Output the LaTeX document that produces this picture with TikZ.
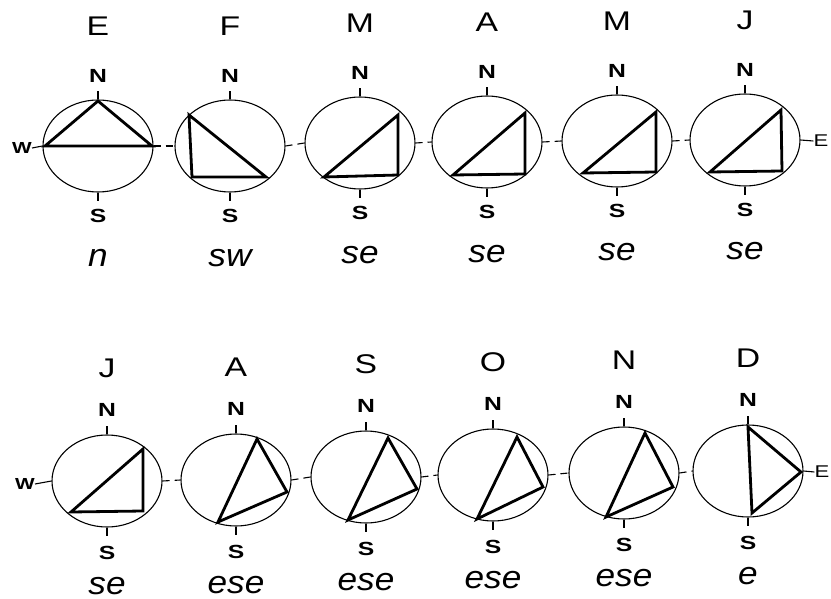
\documentclass[tikz,border=0pt]{standalone}
\usepackage{fontspec}
\setmainfont{Liberation Sans}
\newfontfamily\monthfont[FakeStretch=1.25]{Liberation Sans}
\newfontfamily\cardfont[FakeStretch=1.3]{Liberation Sans}
\newfontfamily\windfont[FakeStretch=1.1]{Liberation Sans}
\usetikzlibrary{shapes.geometric}
\begin{document}
\begin{tikzpicture}[x=1pt,y=-1pt,
 ell/.style={draw, ellipse, minimum width=110pt, minimum height=92pt, inner sep=0pt, line width=1.1pt},
 tri/.style={line width=2.8pt, line join=miter},
 conn/.style={line width=1.1pt, dash pattern=on 7pt off 5pt},
 tk/.style={line width=1.1pt},
 month/.style={font=\monthfont\fontsize{27}{27}\selectfont, anchor=base, inner sep=0pt},
 cardinal/.style={font=\cardfont\fontsize{19}{19}\selectfont\bfseries, anchor=base, inner sep=0pt},
 wind/.style={font=\windfont\fontsize{32}{32}\selectfont\itshape, anchor=base, inner sep=0pt}]
\useasboundingbox (0,0) rectangle (831,599);
\newcommand\compassrose[5]{%
  \node[ell] (#1) at (#2,#3) {};
  \draw[tk] (#1.north) -- ++(0,-8);
  \draw[tk] (#1.south) -- ++(0,8);
  \node[cardinal] (#1n) at (#2,#3-\noff) {N};
  \node[cardinal] (#1s) at (#2,#3+\soff) {S};
  \node[month] (#1m) at (#2,#3-\moff) {#4};
  \node[wind] (#1w) at (#2,#3+\woff) {#5};
}
% top row
\def\noff{63}\def\soff{77}\def\moff{110}\def\woff{120}
\compassrose{a1}{98}{146}{E}{n}
\compassrose{a2}{230}{146}{F}{sw}
\compassrose{a3}{360}{143}{M}{se}
\compassrose{a4}{487}{142}{A}{se}
\compassrose{a5}{617}{141}{M}{se}
\compassrose{a6}{745}{140}{J}{se}
% bottom row
\def\noff{65}\def\soff{78}\def\moff{104}\def\woff{113}
\compassrose{b1}{107}{481}{J}{se}
\compassrose{b2}{236}{480}{A}{ese}
\compassrose{b3}{366}{477}{S}{ese}
\compassrose{b4}{493}{475}{O}{ese}
\compassrose{b5}{624}{473}{N}{ese}
\compassrose{b6}{748}{471}{D}{e}
% W and E labels
\node[font=\cardfont\fontsize{16}{16}\selectfont\bfseries, inner sep=0pt] (wa) at (22,148) {W};
\node[font=\cardfont\fontsize{16}{16}\selectfont\bfseries, inner sep=0pt] (wb) at (25,484) {W};
\node[font=\cardfont\fontsize{17}{17}\selectfont, inner sep=0pt] (ea) at (821,141) {E};
\node[font=\cardfont\fontsize{17}{17}\selectfont, inner sep=0pt] (eb) at (822,472) {E};
\draw[tk] (wa.east) -- (a1.west);
\draw[tk] (wb.east) -- (b1.west);
\draw[tk] (a6.east) -- (ea.west);
\draw[tk] (b6.east) -- (eb.west);
% connectors
\foreach \p/\q in {a1/a2,a2/a3,a3/a4,a4/a5,a5/a6,b1/b2,b2/b3,b3/b4,b4/b5,b5/b6}
  \draw[conn] (\p.east) -- (\q.west);
% triangles
\draw[tri] (45,146) -- (98,101) -- (152,146) -- cycle;
\draw[tri] (189,115) -- (192,177) -- (266,177) -- cycle;
\draw[tri] (398,115) -- (398,175) -- (324,177) -- cycle;
\draw[tri] (525,113) -- (525,174) -- (453,175) -- cycle;
\draw[tri] (656,112) -- (656,172) -- (583,173) -- cycle;
\draw[tri] (781,110) -- (782,171) -- (710,172) -- cycle;
\draw[tri] (143,449) -- (143,511) -- (71,512) -- cycle;
\draw[tri] (257,439) -- (287,492) -- (218,522) -- cycle;
\draw[tri] (388,438) -- (417,489) -- (348,520) -- cycle;
\draw[tri] (517,437) -- (543,487) -- (477,519) -- cycle;
\draw[tri] (645,433) -- (673,487) -- (606,517) -- cycle;
\draw[tri] (748,427) -- (801,472) -- (752,513) -- cycle;
\end{tikzpicture}
\end{document}
